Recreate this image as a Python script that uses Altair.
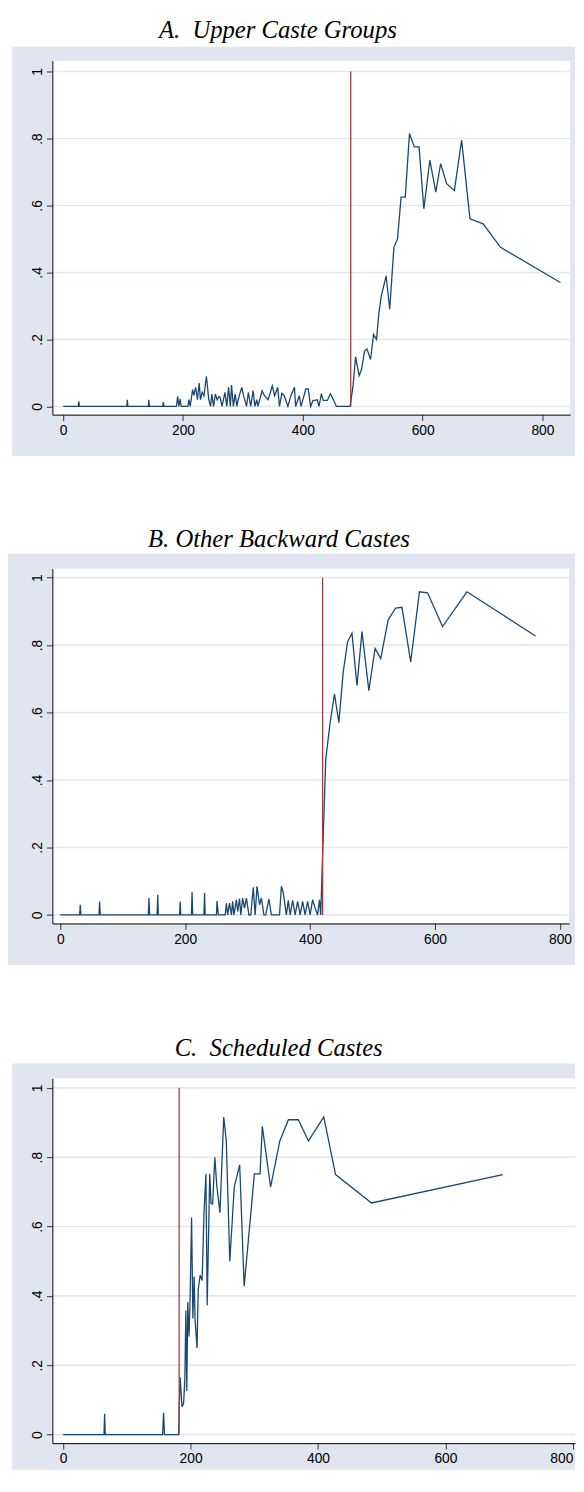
import altair as alt
import pandas as pd

# ---------------- data ----------------
TITLES = ["A.\u00a0 Upper Caste Groups", "B. Other Backward Castes", "C.\u00a0 Scheduled Castes"]
CUTOFFS = [480, 420, 182]
X_TICKS = [0, 200, 400, 600, 800]
Y_TICKS = [0, 0.2, 0.4, 0.6, 0.8, 1.0]

A_X = [0, 25, 26, 27, 106, 107, 108, 142, 143, 144, 166, 167, 168, 189, 191, 193, 195, 197,
       208, 210, 212, 216, 218, 221, 224, 227, 229, 232, 235, 239, 243, 246, 248, 251, 254,
       257, 260, 262, 265, 270, 273, 276, 279, 281, 284, 287, 290, 292, 298, 301, 306, 309,
       313, 317, 320, 323, 325, 328, 332, 336, 342, 349, 353, 358, 361, 365, 369, 375, 380,
       386, 388, 394, 397, 405, 409, 413, 417, 420, 424, 427, 431, 434, 441, 446, 451, 456,
       479, 484, 488, 494, 498, 503, 507, 513, 518, 523, 527, 531, 539, 545, 552, 558, 564,
       571, 578, 586, 594, 602, 612, 622, 630, 640, 653, 665, 679, 701, 730, 830]
A_Y = [0, 0, 0.015, 0, 0, 0.02, 0, 0, 0.02, 0, 0, 0.013, 0, 0, 0.03, 0, 0.022, 0,
       0, 0.02, 0, 0.05, 0.033, 0.057, 0.02, 0.07, 0.02, 0.042, 0.032, 0.09, 0.02, 0, 0.037, 0, 0.037,
       0.02, 0.03, 0.027, 0, 0.042, 0, 0.057, 0, 0.064, 0, 0.037, 0, 0.02, 0.057, 0.033, 0, 0.042,
       0, 0.047, 0, 0.02, 0, 0.02, 0.047, 0.032, 0.02, 0.061, 0.032, 0.057, 0, 0.039, 0.032, 0, 0.032,
       0.057, 0, 0.032, 0, 0.052, 0.052, 0, 0.018, 0.018, 0.02, 0, 0.038, 0.018, 0.018, 0.038, 0.02, 0,
       0, 0.065, 0.148, 0.092, 0.11, 0.165, 0.172, 0.14, 0.215, 0.20, 0.28, 0.33, 0.39, 0.29, 0.475, 0.50, 0.625,
       0.625, 0.815, 0.775, 0.775, 0.59, 0.735, 0.64, 0.725, 0.665, 0.645, 0.795, 0.56, 0.545, 0.475, 0.37]

B_X = [0, 31, 32, 33, 62, 63, 64, 141, 142, 143, 155, 156, 157, 191, 192, 193, 210, 211, 212,
       230, 231, 232, 250, 251, 253, 264, 266, 268, 271, 274, 276, 278, 282, 284, 287, 289, 292,
       295, 298, 302, 305, 309, 312, 315, 319, 322, 326, 329, 334, 338, 351, 354, 357, 362, 365,
       368, 372, 376, 380, 384, 388, 392, 396, 400, 404, 408, 412, 415, 417, 419.5, 425, 432, 439,
       446, 453, 460, 467, 475, 483, 494, 504, 513, 525, 537, 547, 561, 575, 588, 612, 651, 761]
B_Y = [0, 0, 0.03, 0, 0, 0.04, 0, 0, 0.05, 0, 0, 0.06, 0, 0, 0.04, 0, 0, 0.068, 0,
       0, 0.065, 0, 0, 0.041, 0, 0, 0.034, 0, 0.035, 0, 0.04, 0, 0.045, 0.01, 0.048, 0, 0.05,
       0.02, 0.05, 0, 0, 0.082, 0, 0.085, 0.03, 0.05, 0, 0, 0.047, 0, 0, 0.085, 0.065, 0, 0.043,
       0, 0.043, 0, 0.04, 0, 0.04, 0, 0.04, 0, 0.045, 0.02, 0, 0.045, 0, 0.15, 0.46, 0.57, 0.655,
       0.57, 0.72, 0.81, 0.835, 0.68, 0.84, 0.665, 0.79, 0.76, 0.875, 0.91, 0.912, 0.75, 0.958, 0.955, 0.855, 0.958, 0.827]

C_X = [0, 64, 65, 66, 156, 157.5, 159, 181, 183.5, 186.5, 189, 191, 192.5, 194, 195.5, 197.5,
       199, 201.5, 203.5, 205.5, 207, 210, 212, 215, 218, 221, 224, 226, 230, 232, 234.5, 238,
       241, 246, 252, 256, 261.5, 268.5, 277, 284, 294.5, 300, 309, 312.5, 325.5, 340, 353.5,
       369, 385, 409, 427.5, 484, 690]
C_Y = [0, 0, 0.06, 0, 0, 0.063, 0, 0, 0.165, 0.08, 0.09, 0.165, 0.358, 0.126, 0.382, 0.283,
       0.38, 0.626, 0.335, 0.456, 0.33, 0.25, 0.42, 0.46, 0.444, 0.64, 0.752, 0.373, 0.752, 0.667, 0.665, 0.80,
       0.72, 0.64, 0.916, 0.847, 0.50, 0.714, 0.778, 0.428, 0.638, 0.752, 0.752, 0.889, 0.714, 0.847, 0.908,
       0.908, 0.847, 0.916, 0.75, 0.668, 0.75]

# ---------------- styling ----------------
GRAY = "#e1e5ef"
GRID = "#e3e7f1"
BLUE = "#1a476f"
RED = "#a23a44"
LABEL_FONT = "Liberation Sans"
TITLE_FONT = "Liberation Serif"

Y_LABEL_EXPR = ("datum.value == 0 ? '0' : datum.value > 0.99 ? '1' : "
                "'.' + round(datum.value * 10)")


def panel(xs, ys, cutoff, title, W, H, xdom, ydom, gray, title_dx, title_offset, flush):
    d = pd.DataFrame({"x": xs, "y": ys, "i": list(range(len(xs)))})
    xsc = alt.Scale(domain=xdom, nice=False, zero=False)
    ysc = alt.Scale(domain=ydom, nice=False, zero=False)
    one = pd.DataFrame({"k": [0]})

    bg = alt.Chart(one).mark_rect(color=GRAY).encode(
        x=alt.value(gray[0]), x2=alt.value(gray[1]),
        y=alt.value(gray[2]), y2=alt.value(gray[3]))
    white = alt.Chart(one).mark_rect(color="white").encode(
        x=alt.value(0), x2=alt.value(W), y=alt.value(0), y2=alt.value(H))

    grid = alt.Chart(pd.DataFrame({"t": Y_TICKS})).mark_rule(
        color=GRID, strokeWidth=1.6).encode(
        y=alt.Y("t:Q", scale=ysc, title=None),
        x=alt.value(0), x2=alt.value(W))

    xaxis = alt.Axis(values=X_TICKS, grid=False, zindex=1, tickSize=6,
                     labelPadding=3, labelFlush=flush, labelOverlap=False,
                     domainColor="black", tickColor="#333333",
                     labelFont=LABEL_FONT, labelFontSize=14, labelColor="black")
    yaxis = alt.Axis(values=Y_TICKS, grid=False, zindex=1, tickSize=6,
                     labelPadding=2, labelAngle=270, labelAlign="center",
                     labelBaseline="bottom", labelOverlap=False,
                     labelExpr=Y_LABEL_EXPR,
                     domainColor="black", tickColor="#333333",
                     labelFont=LABEL_FONT, labelFontSize=14, labelColor="black")

    line = alt.Chart(d).mark_line(color=BLUE, strokeWidth=1.3).encode(
        x=alt.X("x:Q", scale=xsc, axis=xaxis, title=None),
        y=alt.Y("y:Q", scale=ysc, axis=yaxis, title=None),
        order="i:Q")

    cut = alt.Chart(pd.DataFrame({"c": [cutoff], "lo": [0], "hi": [1]})).mark_rule(
        color=RED, strokeWidth=1.3).encode(
        x=alt.X("c:Q", scale=xsc, title=None),
        y=alt.Y("lo:Q", scale=ysc, title=None), y2="hi:Q")

    return alt.layer(bg, white, grid, line, cut).properties(
        width=W, height=H,
        title=alt.Title(text=title, font=TITLE_FONT, fontSize=25, fontStyle="italic",
                        fontWeight="normal", color="black", anchor="start",
                        frame="group", dx=title_dx, offset=title_offset))


pA = panel(A_X, A_Y, CUTOFFS[0], TITLES[0], 525, 359, [-18.1, 846.1], [-0.0245, 1.0324],
           [-41, 530, -14, 401], 108, 4, False)
pB = panel(B_X, B_Y, CUTOFFS[1], TITLES[1], 524, 360, [-12.63, 814.6], [-0.0254, 1.0272],
           [-45, 530, -15, 402], 97, 2, False)
pC = panel(C_X, C_Y, CUTOFFS[2], TITLES[2], 530, 370, [-17.03, 803.4], [-0.0247, 1.0276],
           [-41, 530, -15, 397], 124, 3, 5)

chart = alt.vconcat(pA, pB, pC, spacing=72).properties(
    padding=0, background="white").configure_view(stroke=None)

chart.save("out.html", embed_options={"renderer": "svg", "actions": False})
